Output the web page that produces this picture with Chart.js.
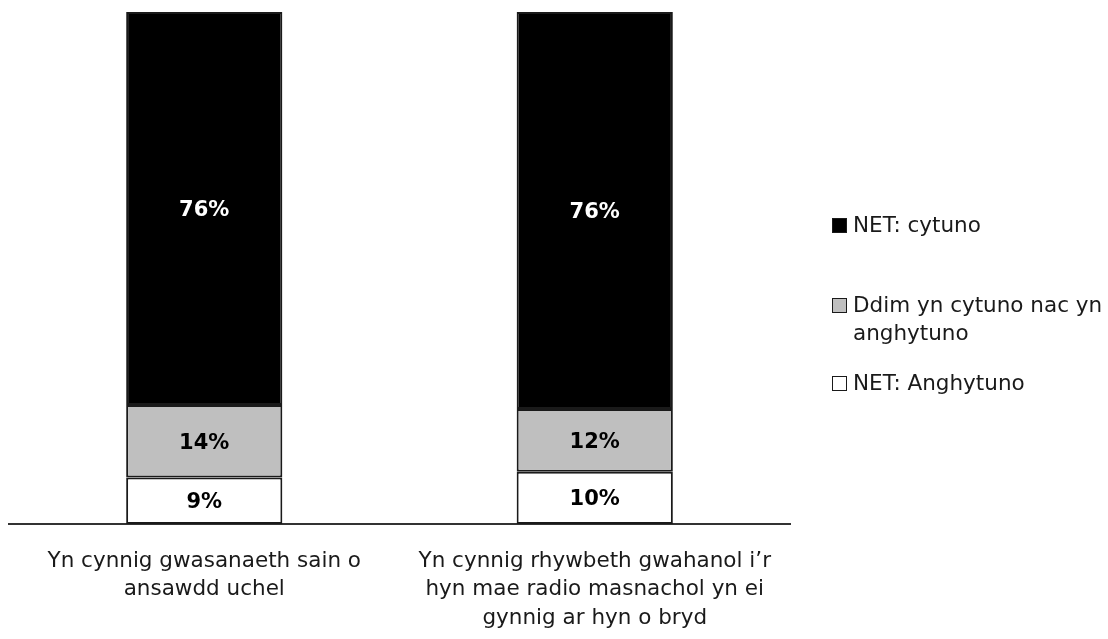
<!DOCTYPE html>
<html>
<head>
<meta charset="utf-8">
<script src="https://cdn.jsdelivr.net/npm/chart.js@4/dist/chart.umd.min.js"></script>
<style>
  html, body { margin: 0; padding: 0; background: #fff; }
  #wrap { position: relative; width: 1108px; height: 639px; overflow: hidden; }
  #legend { position: absolute; left: 832px; top: 0; font-family: "DejaVu Sans", sans-serif; font-size: 21.5px; color: #1a1a1a; }
  .item { position: absolute; left: 0; white-space: nowrap; line-height: 28px; }
  .sw { position: absolute; left: 0; top: 6.5px; width: 13px; height: 13px; border: 1.5px solid #1a1a1a; box-sizing: content-box; }
  .txt { position: absolute; left: 21px; top: 0; }
</style>
</head>
<body>
<div id="wrap">
  <canvas id="c" width="1108" height="639"></canvas>
  <div id="legend"></div>
</div>
<script>
const categories = [
  ["Yn cynnig gwasanaeth sain o", "ansawdd uchel"],
  ["Yn cynnig rhywbeth gwahanol i\u2019r", "hyn mae radio masnachol yn ei", "gynnig ar hyn o bryd"]
];
const netAnghytuno = [9, 10];
const ddimYnCytuno = [14, 12];
const netCytuno = [76, 76];

const seriesNames = ["NET: Anghytuno", "Ddim yn cytuno nac yn anghytuno", "NET: cytuno"];
const seriesColors = ["#ffffff", "#bfbfbf", "#000000"];
const labelColors = ["#000000", "#000000", "#ffffff"];
const rawSeries = [netAnghytuno, ddimYnCytuno, netCytuno];

const totals = categories.map((_, i) => rawSeries.reduce((s, arr) => s + arr[i], 0));
const datasets = rawSeries.map((arr, k) => ({
  label: seriesNames[k],
  data: arr.map((v, i) => v / totals[i] * 100),
  raw: arr,
  backgroundColor: seriesColors[k],
  borderColor: "#1a1a1a",
  borderWidth: 2,
  borderSkipped: false,
  barPercentage: 0.8,
  categoryPercentage: 0.5
}));

const labelPlugin = {
  id: "segLabels",
  afterDatasetsDraw(chart) {
    const ctx = chart.ctx;
    ctx.save();
    ctx.font = "bold 21px 'DejaVu Sans', sans-serif";
    ctx.textAlign = "center";
    ctx.textBaseline = "middle";
    chart.data.datasets.forEach((ds, k) => {
      const meta = chart.getDatasetMeta(k);
      meta.data.forEach((bar, i) => {
        const y = (bar.y + bar.base) / 2;
        ctx.fillStyle = labelColors[k];
        ctx.fillText(ds.raw[i] + "%", bar.x, y + 2);
      });
    });
    ctx.restore();
  }
};

new Chart(document.getElementById("c"), {
  type: "bar",
  data: { labels: categories, datasets: datasets },
  options: {
    responsive: false,
    animation: false,
    layout: { padding: { left: 9, right: 318, top: 12, bottom: 0 } },
    plugins: { legend: { display: false }, tooltip: { enabled: false } },
    scales: {
      x: {
        stacked: true,
        grid: { display: false, drawTicks: false },
        border: { display: true, color: "#333", width: 2 },
        ticks: { color: "#1a1a1a", font: { family: "'DejaVu Sans', sans-serif", size: 21.5, lineHeight: 1.33 }, padding: 23, maxRotation: 0 },
        afterFit(scale) { scale.height = 115; }
      },
      y: {
        stacked: true,
        display: false,
        min: 0,
        max: 100
      }
    }
  },
  plugins: [labelPlugin]
});

// legend (top-to-bottom order: black, grey, white)
const legendPos = [211, 291, 369];
const legendText = [["NET: cytuno"], ["Ddim yn cytuno nac yn", "anghytuno"], ["NET: Anghytuno"]];
const legend = document.getElementById("legend");
[2, 1, 0].forEach((k, j) => {
  const d = document.createElement("div");
  d.className = "item";
  d.style.top = legendPos[j] + "px";
  const sw = document.createElement("span");
  sw.className = "sw";
  sw.style.background = seriesColors[k];
  const t = document.createElement("span");
  t.className = "txt";
  t.innerHTML = legendText[j].join("<br>");
  d.appendChild(sw); d.appendChild(t);
  legend.appendChild(d);
});
</script>
</body>
</html>
